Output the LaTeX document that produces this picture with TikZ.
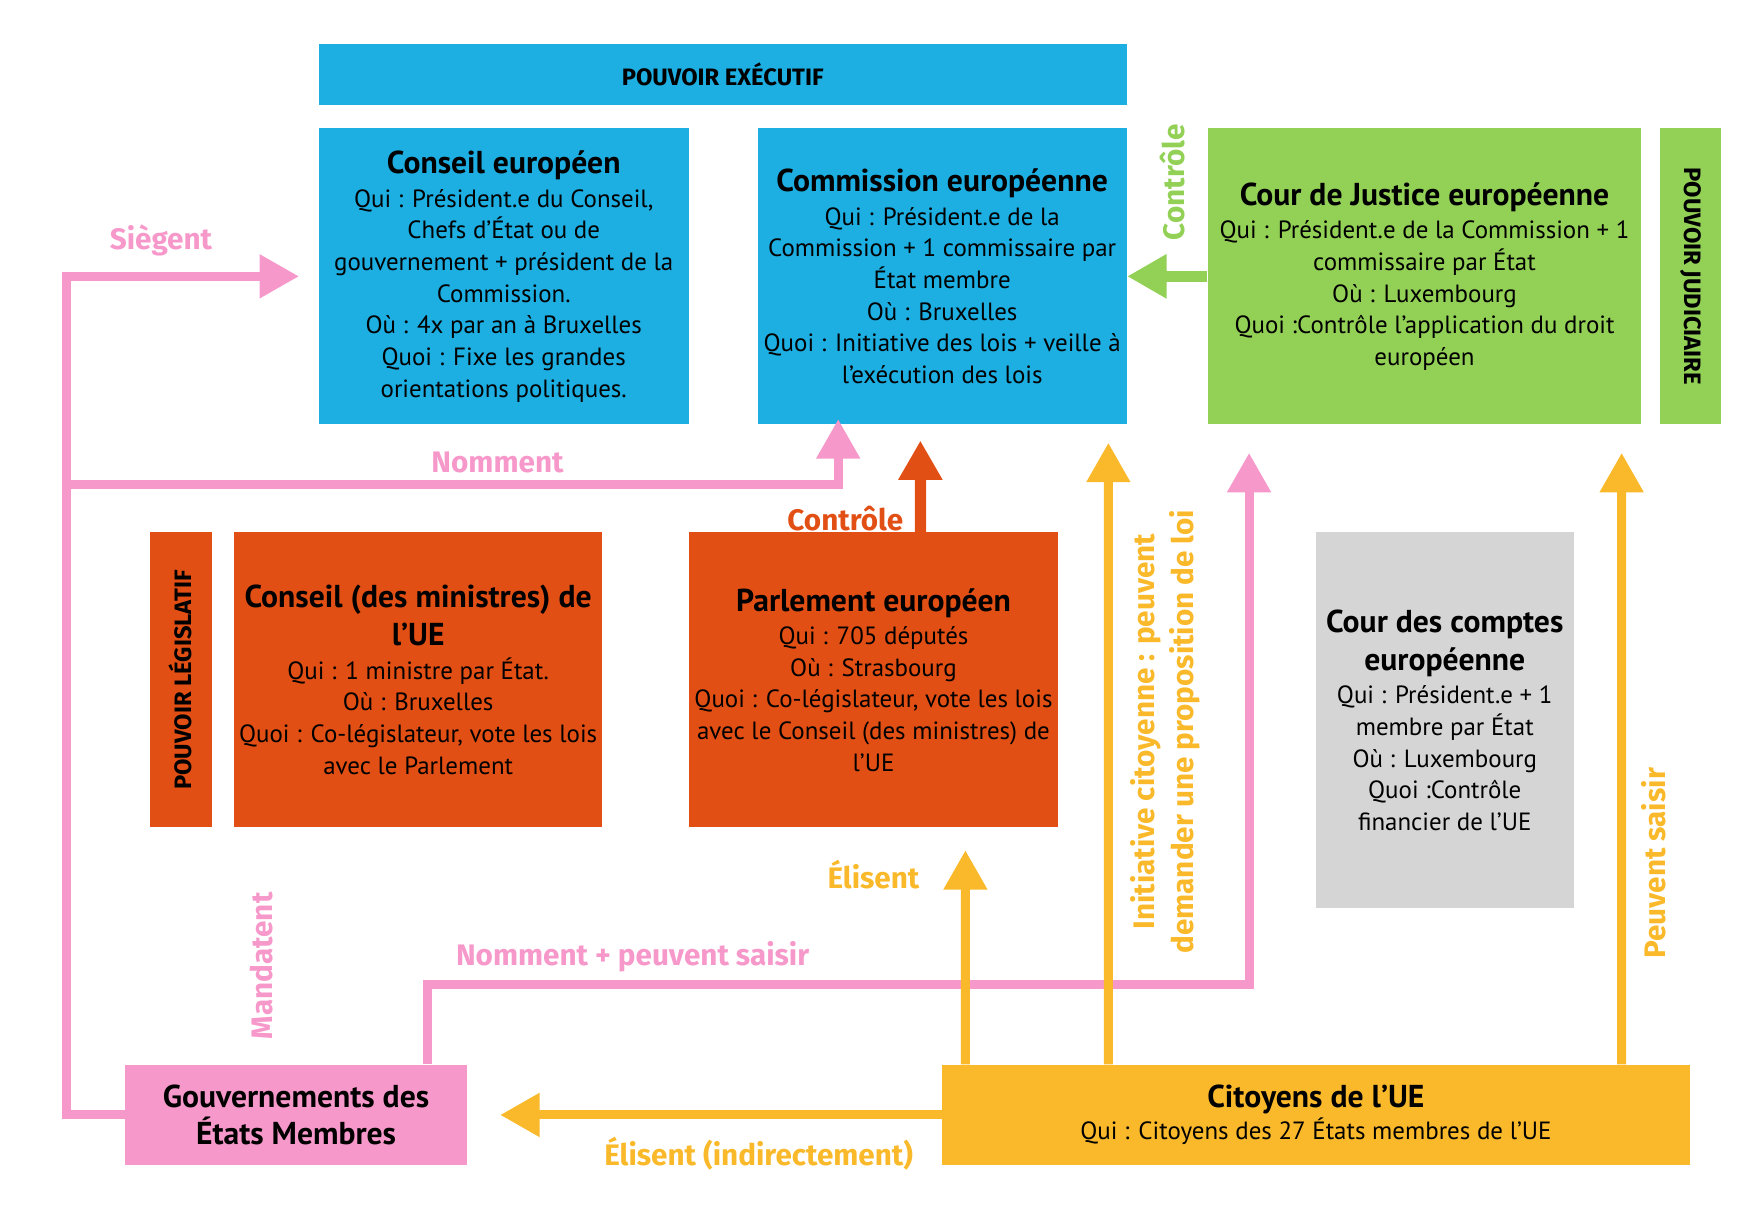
\documentclass[tikz,border=0pt]{standalone}
\usepackage{fontspec}
\setmainfont{PT Sans}
\newfontfamily\lblfont{Fira Sans}
\usetikzlibrary{arrows.meta}

\definecolor{exblue}{RGB}{29,174,226}
\definecolor{legorange}{RGB}{226,79,20}
\definecolor{judgreen}{RGB}{146,208,86}
\definecolor{audgrey}{RGB}{213,213,213}
\definecolor{govpink}{RGB}{247,152,202}
\definecolor{cityellow}{RGB}{250,185,42}

\newcommand\ttl{\fontsize{16}{19.5}\selectfont\bfseries}

\tikzset{
  inst/.style={inner sep=0pt, align=center, font=\fontsize{12.6}{16}\selectfont},
  bar/.style={inner sep=0pt, font=\lblfont\fontsize{12}{13}\selectfont\bfseries},
  lbl/.style={inner sep=0pt, align=center, font=\lblfont\fontsize{15}{19.5}\selectfont\bfseries},
  link/.style={line width=1.6mm, -{Triangle[width=7.4mm,length=7mm]}}
}

\begin{document}
\begin{tikzpicture}[x=0.2mm, y=-0.2mm]
\useasboundingbox (0,0) rectangle (1560,1077);

\node[bar, fill=exblue, minimum width=143.6mm, minimum height=10.8mm] (exbar) at (642,66) {POUVOIR EXÉCUTIF};
\node[inst, fill=exblue, minimum width=65.8mm, minimum height=52.6mm] (ceu) at (447.5,245.5)
  {\ttl Conseil européen\\[1pt] Qui : Président.e du Conseil,\\ Chefs d’État ou de\\ gouvernement + président de la\\ Commission.\\ Où : 4x par an à Bruxelles\\ Quoi : Fixe les grandes\\ orientations politiques.};
\node[inst, fill=exblue, minimum width=65.6mm, minimum height=52.6mm] (com) at (837,245.5)
  {\ttl Commission européenne\\[1pt] Qui : Président.e de la\\ Commission + 1 commissaire par\\ État membre\\ Où : Bruxelles\\ Quoi : Initiative des lois + veille à\\ l’exécution des lois};
\node[inst, fill=judgreen, minimum width=77mm, minimum height=52.6mm] (cour) at (1265.5,245.5)
  {\ttl Cour de Justice européenne\\[1pt] Qui : Président.e de la Commission + 1\\ commissaire par État\\ Où : Luxembourg\\ Quoi :Contrôle l’application du droit\\ européen};
\node[bar, fill=judgreen, rotate=-90, minimum width=52.6mm, minimum height=10.8mm] (judbar) at (1502,245.5) {POUVOIR JUDICIAIRE};

\node[bar, fill=legorange, rotate=90, minimum width=52.4mm, minimum height=11mm] (legbar) at (160.5,604) {POUVOIR LÉGISLATIF};
\node[inst, fill=legorange, minimum width=65.4mm, minimum height=52.4mm] (cmin) at (371.5,604)
  {\ttl Conseil (des ministres) de\\[3pt] \ttl l’UE\\[1pt] Qui : 1 ministre par État.\\ Où : Bruxelles\\ Quoi : Co-législateur, vote les lois\\ avec le Parlement};
\node[inst, fill=legorange, minimum width=65.6mm, minimum height=52.4mm] (parl) at (776,604)
  {\ttl Parlement européen\\[1pt] Qui : 705 députés\\ Où : Strasbourg\\ Quoi : Co-législateur, vote les lois\\ avec le Conseil (des ministres) de\\ l’UE};
\node[inst, fill=audgrey, minimum width=45.8mm, minimum height=66.8mm] (cdc) at (1283.5,640)
  {\ttl Cour des comptes\\[3pt] \ttl européenne\\[1pt] Qui : Président.e + 1\\ membre par État\\ Où : Luxembourg\\ Quoi :Contrôle\\ financier de l’UE};

\node[inst, fill=govpink, minimum width=60.8mm, minimum height=17.8mm, font=\fontsize{16}{19}\selectfont\bfseries] (gouv) at (263,990.5)
  {Gouvernements des\\ États Membres};
\node[inst, fill=cityellow, minimum width=132.8mm, minimum height=17.8mm] (cit) at (1169,990.5)
  {\ttl Citoyens de l’UE\\ Qui : Citoyens des 27 États membres de l’UE};

\coordinate (nm) at (59,430);
\draw[link, govpink] (gouv.west) -- ++(-52,0) |- ([xshift=-3.4mm]ceu.west);
\draw[link, govpink] (nm) -| ([xshift=14.4mm,yshift=1mm]com.south west);
\draw[link, govpink] ([xshift=53.8mm]gouv.north west) -- ++(0,-71) -| ([xshift=7.4mm,yshift=-5mm]cour.south west);
\draw[link, line width=2mm, judgreen] (cour.west) -- (com.east);
\draw[link, line width=2mm, legorange] ([xshift=41.2mm]parl.north west) -- ([xshift=29mm,yshift=-2.8mm]com.south west);
\draw[link, cityellow] ([xshift=4.2mm]cit.north west) -- ([xshift=49.2mm,yshift=-4mm]parl.south west);
\draw[link, cityellow] ([xshift=29.6mm]cit.north west) -- ([xshift=62.4mm,yshift=-3.2mm]com.south west);
\draw[link, cityellow] ([xshift=120.8mm]cit.north west) -- ([xshift=73.6mm,yshift=-5mm]cour.south west);
\draw[link, cityellow] (cit.west) -- ([xshift=5.8mm]gouv.east);

\node[lbl, govpink] (siegent) at (143,214) {Siègent};
\node[lbl, govpink] (nomment) at (442,411) {Nomment};
\node[lbl, legorange] (ctrlparl) at (751,461) {Contrôle};
\node[lbl, judgreen, rotate=90] (ctrlcour) at (1042,162) {Contrôle};
\node[lbl, govpink, rotate=90] (mandat) at (232,858) {Mandatent};
\node[lbl, govpink] (saisir) at (562,850) {Nomment + peuvent saisir};
\node[lbl, cityellow] (elisent) at (776,777) {Élisent};
\node[lbl, cityellow, rotate=90] (initiative) at (1035,650) {Initiative citoyenne : peuvent\\ demander une proposition de loi};
\node[lbl, cityellow, rotate=90] (psaisir) at (1469,767) {Peuvent saisir};
\node[lbl, cityellow] (indirect) at (674,1025) {Élisent (indirectement)};
\end{tikzpicture}
\end{document}
